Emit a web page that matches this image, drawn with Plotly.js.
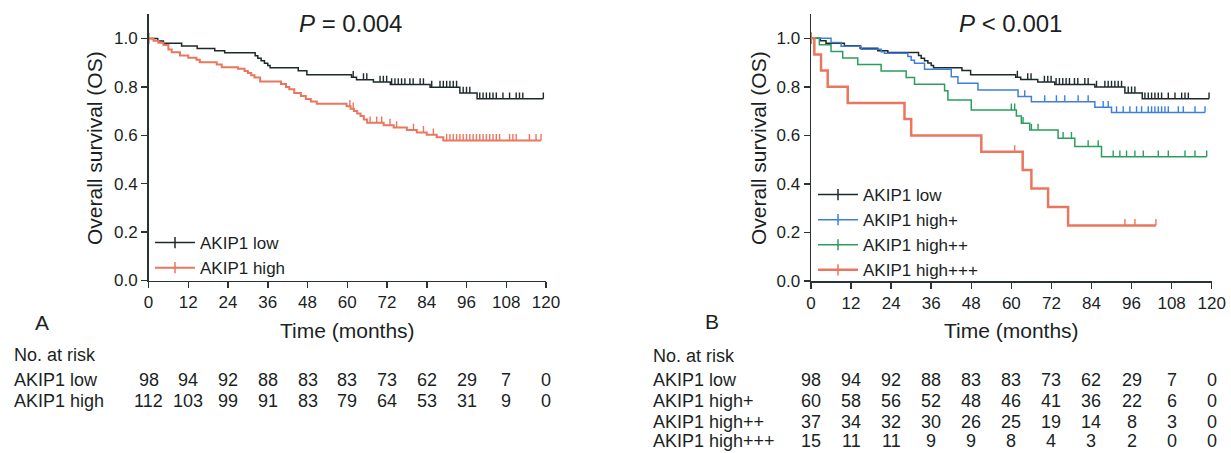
<!DOCTYPE html>
<html><head><meta charset="utf-8">
<script src="https://cdn.plot.ly/plotly-3.0.1.min.js"></script>
<style>html,body{margin:0;padding:0;background:#fff;} #chart{width:1231px;height:453px;}</style>
</head><body><div id="chart"></div>
<script>
// ---- Data ----
// Kaplan-Meier step points (time in months, survival after step) and censor times
const lowT = [0, 2.8, 4.5, 10, 14.7, 20, 23, 32.2, 33, 34, 35, 36, 36.7, 45.2, 47.8, 61.3, 62.8, 67.9, 73, 85, 94, 99.2];
const lowS = [1, 0.99, 0.98, 0.969, 0.959, 0.949, 0.941, 0.929, 0.918, 0.908, 0.898, 0.888, 0.879, 0.867, 0.85, 0.84, 0.83, 0.82, 0.81, 0.799, 0.775, 0.751];
const lowCensor = [61.8, 64.9, 65.9, 69.9, 70.9, 71.9, 73.4, 74.4, 75.4, 76.4, 77.4, 78.9, 79.9, 82, 83, 85.5, 88, 89, 90, 91, 92, 93, 95, 96, 97, 100, 101, 102, 103, 104, 105, 107, 109, 111, 112, 113, 119.2];

const highT = [0, 1.5, 3, 4.5, 6, 7, 9.5, 12, 14.5, 15.5, 20.6, 22.1, 27, 29, 30, 31, 32, 33.7, 40, 41.5, 42.5, 44, 46, 47.5, 49, 50.8, 59.8, 61, 62, 63, 64, 65, 66, 71, 74, 78, 81, 84, 87, 89];
const highS = [1, 0.991, 0.982, 0.973, 0.955, 0.943, 0.93, 0.92, 0.912, 0.902, 0.893, 0.881, 0.875, 0.866, 0.857, 0.848, 0.839, 0.822, 0.812, 0.80, 0.79, 0.775, 0.762, 0.75, 0.74, 0.73, 0.72, 0.71, 0.70, 0.69, 0.68, 0.665, 0.652, 0.642, 0.632, 0.622, 0.612, 0.602, 0.592, 0.579];
const highCensor = [60.8, 61.8, 66.9, 68.9, 70.4, 72.9, 74.9, 80, 83, 86, 90, 91, 92, 93, 94, 95, 96, 97, 98, 99, 100, 101, 102, 103, 104, 105, 106, 109, 110, 111, 115, 117, 118.5];

const plusT = [0, 6, 9, 15, 21, 22, 29, 30, 31, 34, 42, 44, 50, 62, 66, 85, 90];
const plusS = [1, 0.983, 0.967, 0.955, 0.945, 0.938, 0.925, 0.91, 0.897, 0.872, 0.842, 0.815, 0.787, 0.76, 0.739, 0.716, 0.694];
const plusCensor = [64, 70, 73.5, 76, 80, 83, 87.5, 89, 91.5, 93.5, 95.5, 97.5, 99, 101, 102, 103, 104, 105, 106, 107, 110, 111.5, 115, 118];

const ppT = [0, 2.5, 6, 9.5, 14, 21, 28.5, 31, 40, 41, 48, 61.5, 63, 65.5, 74, 79, 87];
const ppS = [1, 0.973, 0.946, 0.919, 0.892, 0.865, 0.838, 0.811, 0.784, 0.746, 0.705, 0.68, 0.65, 0.622, 0.588, 0.554, 0.512];
const ppCensor = [60, 61, 63.5, 66, 68, 75.5, 78, 83, 86, 90.5, 92.5, 94.5, 97, 99.5, 104, 107, 112, 115, 118.5];

const pppT = [0, 1, 3, 5, 11, 28, 30, 51, 63.4, 66, 71, 77];
const pppS = [1, 0.933, 0.867, 0.80, 0.733, 0.667, 0.60, 0.533, 0.457, 0.381, 0.305, 0.229];
const pppCensor = [61, 94, 97, 103.3];

// Numbers at risk
const riskTimes = [0, 12, 24, 36, 48, 60, 72, 84, 96, 108, 120];
const riskLow = [98, 94, 92, 88, 83, 83, 73, 62, 29, 7, 0];
const riskHigh = [112, 103, 99, 91, 83, 79, 64, 53, 31, 9, 0];
const riskPlus = [60, 58, 56, 52, 48, 46, 41, 36, 22, 6, 0];
const riskPP = [37, 34, 32, 30, 26, 25, 19, 14, 8, 3, 0];
const riskPPP = [15, 11, 11, 9, 9, 8, 4, 3, 2, 0, 0];

const xTicks = [0, 12, 24, 36, 48, 60, 72, 84, 96, 108, 120];
const yTicks = [0, 0.2, 0.4, 0.6, 0.8, 1.0];

// ---- Styling ----
const W = 1231, H = 453;
const FONT = 'Liberation Sans, Arial, Helvetica, sans-serif';
const TXT = '#1b1f1f';
const AX = '#2a3333';
const C_LOW = '#1e2a2a', C_HIGH = '#ea765e', C_PLUS = '#3f7fdb', C_PP = '#2a9e5e', C_PPP = '#ea765e';
const TICK_UP = 0.026; // censor tick height in survival units (style)
const px = v => v / W;
const py = v => (H - v) / H;

function kmTrace(evT, evS, cens, name, color, width, xa, ya, leg) {
  const pts = [];
  evT.forEach((t, i) => pts.push({t: t, s: evS[i], cen: false, first: i === 0}));
  cens.forEach(c => {
    let s = evS[0];
    for (let i = 0; i < evT.length; i++) if (evT[i] <= c) s = evS[i];
    pts.push({t: c, s: s, cen: true, first: false});
  });
  pts.sort((a, b) => (a.t - b.t) || ((a.cen ? 1 : 0) - (b.cen ? 1 : 0)));
  // only the first point (hidden under the y axis line) keeps a visible marker, so the legend shows a tick
  const cols = pts.map(p => p.first ? color : 'rgba(0,0,0,0)');
  return {
    type: 'scatter', mode: 'lines+markers', name: name,
    x: pts.map(p => p.t), y: pts.map(p => p.s),
    xaxis: xa, yaxis: ya, legend: leg,
    line: {shape: 'hv', color: color, width: width},
    marker: {symbol: 'line-ns-open', size: 8, color: cols, line: {color: cols, width: 1.5}},
    error_y: {type: 'data', symmetric: false, array: pts.map(p => p.cen ? TICK_UP : 0),
      arrayminus: pts.map(() => 0), width: 0, thickness: 1.4, color: color, visible: true},
    hoverinfo: 'skip', cliponaxis: false
  };
}

const traces = [
  kmTrace(lowT, lowS, lowCensor, 'AKIP1 low', C_LOW, 1.5, 'x', 'y', 'legend'),
  kmTrace(highT, highS, highCensor, 'AKIP1 high', C_HIGH, 2, 'x', 'y', 'legend'),
  kmTrace(lowT, lowS, lowCensor, 'AKIP1 low', C_LOW, 1.5, 'x2', 'y2', 'legend2'),
  kmTrace(plusT, plusS, plusCensor, 'AKIP1 high+', C_PLUS, 1.5, 'x2', 'y2', 'legend2'),
  kmTrace(ppT, ppS, ppCensor, 'AKIP1 high++', C_PP, 1.5, 'x2', 'y2', 'legend2'),
  kmTrace(pppT, pppS, pppCensor, 'AKIP1 high+++', C_PPP, 2.5, 'x2', 'y2', 'legend2')
];

function xAxis(domain, anchor) {
  return {domain: domain, anchor: anchor, range: [0, 120], tickvals: xTicks, ticks: 'outside', ticklen: 6,
    tickwidth: 1.5, tickcolor: AX, showline: true, linewidth: 1.5, linecolor: AX, showgrid: false, zeroline: false,
    tickfont: {family: FONT, size: 17, color: TXT}, fixedrange: true};
}
function yAxis(domain, anchor) {
  return {domain: domain, anchor: anchor, range: [0, 1.1], tickvals: yTicks, tickformat: '.1f', ticks: 'outside', ticklen: 6,
    tickwidth: 1.5, tickcolor: AX, showline: true, linewidth: 1.5, linecolor: AX, showgrid: false, zeroline: false,
    tickfont: {family: FONT, size: 17, color: TXT}, fixedrange: true};
}

const ann = [];
function txt(text, x, y, size, opts) {
  ann.push(Object.assign({text: text, x: x, y: y, xref: 'paper', yref: 'paper', showarrow: false,
    font: {family: FONT, size: size, color: TXT}, xanchor: 'center', yanchor: 'middle'}, opts || {}));
}
// titles
txt('<i>P</i> = 0.004', px(350), py(23), 24);
txt('<i>P</i> &lt; 0.001', px(1010), py(23), 24);
txt('Time (months)', px(347), py(330), 21);
txt('Time (months)', px(1011), py(330), 21);
txt('Overall survival (OS)', px(94), py(148), 21, {textangle: -90});
txt('Overall survival (OS)', px(758), py(148), 21, {textangle: -90});
txt('A', px(42), py(322), 21);
txt('B', px(712), py(321), 21);

// risk tables
function riskRow(label, counts, labelX, yPix, xref) {
  txt(label, px(labelX), py(yPix), 18, {xanchor: 'left'});
  counts.forEach((n, i) => ann.push({text: String(n), x: riskTimes[i], y: py(yPix), xref: xref, yref: 'paper',
    showarrow: false, xanchor: 'center', yanchor: 'middle', font: {family: FONT, size: 18, color: TXT}}));
}
txt('No. at risk', px(12), py(355), 18, {xanchor: 'left'});
riskRow('AKIP1 low', riskLow, 12, 380, 'x');
riskRow('AKIP1 high', riskHigh, 12, 401, 'x');
txt('No. at risk', px(651), py(356), 18, {xanchor: 'left'});
riskRow('AKIP1 low', riskLow, 651, 380, 'x2');
riskRow('AKIP1 high+', riskPlus, 651, 401, 'x2');
riskRow('AKIP1 high++', riskPP, 651, 421.5, 'x2');
riskRow('AKIP1 high+++', riskPPP, 651, 441, 'x2');

const legendBase = {xanchor: 'left', yanchor: 'top', bgcolor: 'rgba(0,0,0,0)', borderwidth: 0,
  font: {family: FONT, size: 17, color: TXT}, itemwidth: 40, tracegroupgap: 0, traceorder: 'normal'};

const layout = {
  width: W, height: H, margin: {l: 0, r: 0, t: 0, b: 0},
  paper_bgcolor: '#ffffff', plot_bgcolor: '#ffffff', showlegend: true,
  xaxis: xAxis([px(148.5), px(546)], 'y'),
  yaxis: yAxis([(H - 280.5) / H, (H - 280.5 + 1.1 * 242) / H], 'x'),
  xaxis2: xAxis([px(811), px(1211.7)], 'y2'),
  yaxis2: yAxis([(H - 281) / H, (H - 281 + 1.1 * 242.7) / H], 'x2'),
  legend: Object.assign({}, legendBase, {x: px(150), y: py(225)}),
  legend2: Object.assign({}, legendBase, {x: px(813), y: py(177)}),
  annotations: ann
};

Plotly.newPlot('chart', traces, layout, {staticPlot: true, displayModeBar: false});
</script>
</body></html>
